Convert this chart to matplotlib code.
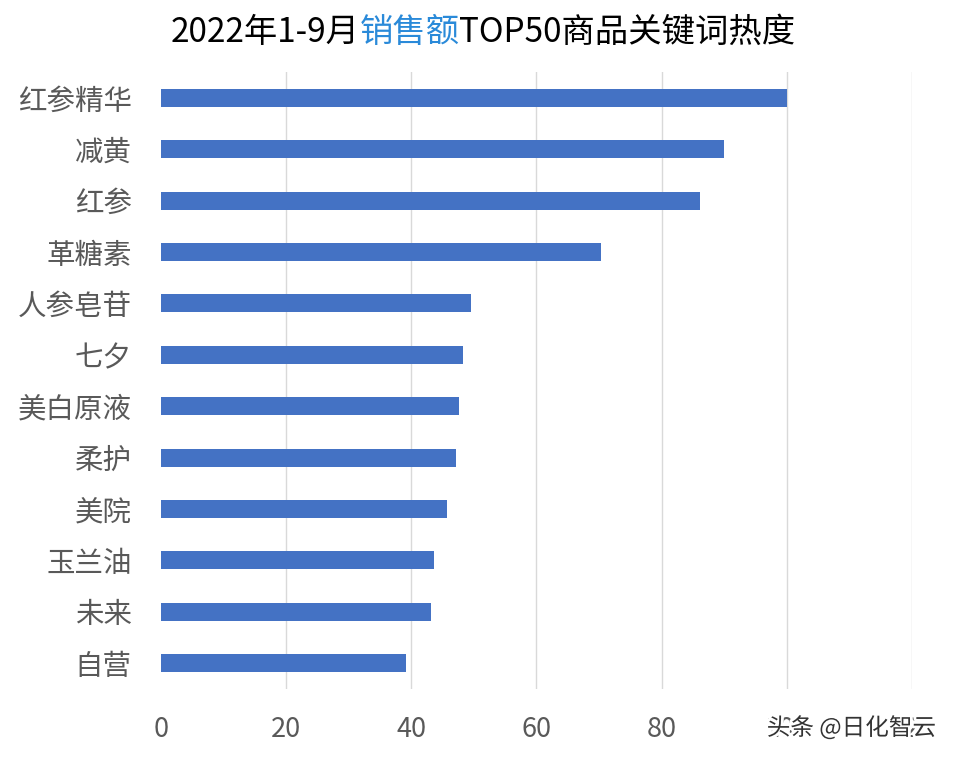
import matplotlib
matplotlib.use("Agg")
import matplotlib.pyplot as plt
import matplotlib.patheffects as pe

plt.rcParams['font.family'] = ['Noto Sans CJK SC', 'DejaVu Sans']

# 数据
keywords = ["红参精华", "减黄", "红参", "革糖素", "人参皂苷", "七夕",
            "美白原液", "柔护", "美院", "玉兰油", "未来", "自营"]
heat = [100, 90, 86.2, 70.3, 49.5, 48.2, 47.6, 47.1, 45.7, 43.6, 43.1, 39.1]
xticks = [0, 20, 40, 60, 80, 100, 120]

fig = plt.figure(figsize=(9.61, 7.62), dpi=100)
ax = fig.add_axes([0.1675, 0.0962, 0.7815, 0.8089])

ypos = list(range(len(keywords)))
ax.barh(ypos, heat, height=0.35, color="#4472C4", zorder=3)
ax.set_ylim(len(keywords) - 0.5, -0.5)
ax.set_xlim(0, 120)
ax.set_yticks(ypos)
ax.set_yticklabels(keywords, fontsize=20.5, color="#595959")
ax.set_xticks(xticks)
ax.set_xticklabels([str(t) for t in xticks], fontsize=19.5, color="#595959")
ax.tick_params(axis="both", length=0)
ax.tick_params(axis="y", pad=21)
ax.tick_params(axis="x", pad=20)
for s in ax.spines.values():
    s.set_visible(False)
for t in xticks[1:]:
    ax.axvline(t, color="#D9D9D9", lw=1, zorder=0)

# 标题（中间一段为蓝色）
parts = [("2022年1-9月", "black"), ("销售额", "#2A8AD9"), ("TOP50商品关键词热度", "black")]
fig.canvas.draw()
r = fig.canvas.get_renderer()
texts = []
for s, c in parts:
    texts.append(fig.text(0, 0.957, s, fontsize=24, color=c, va="center", ha="left"))
widths = [t.get_window_extent(r).width for t in texts]
x = (483 - sum(widths) / 2)
for t, w in zip(texts, widths):
    t.set_x(x / fig.bbox.width)
    x += w

# 水印
fig.text(0.886, 0.045, "头条 @日化智云", fontsize=17, color="#333333", ha="center", va="center",
         path_effects=[pe.withStroke(linewidth=4, foreground="white")])

fig.savefig("out.png", dpi=100)
